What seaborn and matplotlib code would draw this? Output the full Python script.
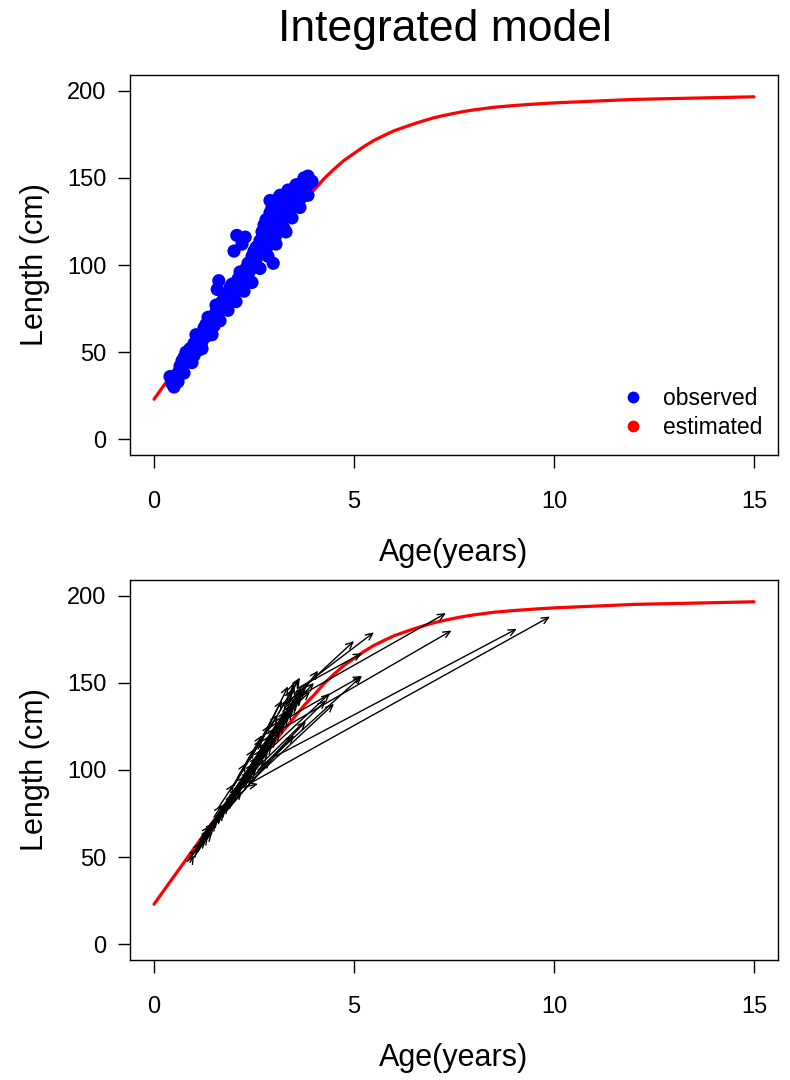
import matplotlib
matplotlib.use("Agg")
import matplotlib.pyplot as plt
import seaborn as sns
import pandas as pd
from matplotlib.lines import Line2D

# ---------------- data ----------------
curve_age = [0, 0.5, 1, 1.5, 2, 2.5, 3, 3.5, 3.75, 4, 4.25, 4.5, 4.75, 5,
             5.25, 5.5, 5.75, 6, 6.25, 6.5, 6.75, 7, 7.25, 7.5, 7.75, 8, 8.5,
             9, 9.5, 10, 11, 12, 13, 14, 15]
curve_len = [23, 39, 55, 71, 87, 102, 116, 130, 137, 143, 149.5, 155, 160, 164,
             168, 171.5, 174.3, 177, 179, 181, 182.8, 184.5, 185.8, 187, 188.1,
             189, 190.5, 191.5, 192.3, 193, 194, 195, 195.5, 196, 196.5]

obs_age = [0.45, 0.5, 0.4, 0.55, 0.6, 0.65, 0.7, 0.7, 0.75, 0.8, 0.85, 0.9, 0.9,
           0.95, 1.0, 1.0, 1.05, 1.1, 1.1, 1.15, 1.2, 1.25, 1.3, 1.3, 1.35, 1.4,
           1.4, 1.45, 1.5, 1.5, 1.55, 1.6, 1.6, 1.62, 1.7, 1.7, 1.75, 1.8, 1.8,
           1.85, 1.9, 1.9, 1.95, 2.0, 2.0, 2.07, 2.05, 2.1, 2.15, 2.2, 2.28, 2.25,
           2.3, 2.35, 2.4, 2.4, 2.45, 2.5, 2.5, 2.55, 2.6, 2.6, 2.65, 2.7, 2.7,
           2.75, 2.75, 2.8, 2.8, 2.85, 2.85, 2.9, 2.9, 2.95, 2.95, 2.98, 3.0, 3.0,
           3.05, 3.05, 3.1, 3.1, 3.15, 3.15, 3.2, 3.2, 3.25, 3.25, 3.3, 3.3, 3.35,
           3.35, 3.4, 3.4, 3.45, 3.5, 3.5, 3.55, 3.6, 3.6, 3.65, 3.7, 3.7, 3.75,
           3.8, 3.85, 3.9, 3.95,
           0.6, 0.75, 0.8, 0.95, 1.05, 1.2, 1.35, 1.45, 1.55, 1.65, 1.75, 1.85,
           1.95, 2.05, 2.15, 2.25, 2.35, 2.45, 2.55, 2.65, 2.75, 2.85, 2.95,
           3.05, 3.15, 3.25, 3.35, 3.45, 3.55, 3.65, 3.75, 3.85, 2.9, 3.0, 3.1,
           1.58, 2.2]
obs_len = [32, 30, 36, 35, 38, 42, 40, 45, 47, 44, 49, 46, 52,
           50, 55, 48, 53, 57, 51, 60, 56, 64, 59, 66, 63, 69,
           62, 67, 71, 65, 73, 69, 76, 91, 74, 79, 77, 81, 75,
           84, 80, 87, 83, 89, 108, 117, 85, 92, 88, 95, 116, 91,
           98, 94, 101, 97, 105, 100, 108, 103, 111, 106, 114, 109, 119,
           113, 123, 116, 126, 111, 121, 130, 118, 125, 133, 101, 121, 129,
           117, 126, 132, 123, 128, 136, 121, 131, 139, 127, 134, 119, 137,
           129, 141, 132, 138, 144, 135, 140, 146, 137, 142, 147, 139, 149,
           144, 151, 147, 148,
           33, 38, 50, 44, 60, 52, 70, 60, 77, 68, 83, 74,
           89, 79, 96, 85, 101, 90, 110, 98, 118, 105, 128,
           112, 140, 121, 143, 127, 146, 133, 150, 140, 137, 134, 138,
           86, 112]

rel_age = [0.85, 0.9, 0.95, 1.0, 1.05, 1.1, 1.15, 1.2, 1.25, 1.3, 1.35, 1.4,
           1.45, 1.5, 1.55, 1.6, 1.65, 1.7, 1.75, 1.8, 1.85, 1.9, 1.95, 2.0,
           2.05, 2.1, 2.15, 2.2, 2.25, 2.3, 2.35, 2.4, 2.45, 2.5, 2.55, 2.6,
           2.65, 2.7, 2.75, 2.8, 2.85, 2.9, 2.95, 3.0, 3.05, 3.1, 3.15, 3.2,
           3.25, 3.3, 1.8, 2.0, 2.3, 2.4, 2.7, 2.2, 2.45, 3.05, 3.0, 3.3,
           3.55, 3.4, 3.35, 2.6, 3.6, 3.2, 2.9,
           0.9, 1.0, 1.1, 1.2, 1.3, 1.4, 1.5, 1.6, 1.7, 1.8, 1.9, 2.0,
           2.1, 2.2, 2.3, 2.4, 2.5, 2.6, 2.7, 2.8, 2.9, 3.0, 3.1, 3.2,
           1.6, 1.9, 2.1, 2.3, 2.5, 2.7, 2.9, 3.1, 3.3, 2.0, 2.4, 1.5,
           1.2, 2.6]
rel_len = [48, 50, 52, 53, 56, 57, 60, 61, 63, 65, 67, 68,
           70, 71, 73, 74, 77, 78, 80, 81, 84, 85, 86, 88,
           89, 91, 93, 95, 96, 98, 99, 101, 103, 104, 106, 108,
           110, 111, 113, 115, 116, 118, 120, 121, 123, 125, 127, 129,
           131, 133, 76, 82, 92, 93, 104, 90, 93, 108, 121, 138,
           145, 140, 142, 100, 147, 128, 112,
           47, 50, 54, 58, 61, 64, 68, 70, 74, 78, 81, 85,
           88, 92, 95, 98, 100, 104, 107, 110, 114, 117, 120, 124,
           78, 88, 96, 104, 110, 118, 124, 132, 138, 91, 106, 73,
           62, 112]
rec_age = [1.1, 1.3, 1.2, 1.5, 1.4, 1.6, 1.5, 1.8, 1.7, 2.0, 1.9, 2.1,
           2.0, 2.3, 2.2, 2.4, 2.1, 2.5, 2.3, 2.6, 2.4, 2.7, 2.5, 2.8,
           2.6, 2.9, 2.7, 3.0, 2.9, 3.1, 2.8, 3.2, 3.0, 3.3, 3.1, 3.4,
           3.2, 3.5, 3.3, 3.6, 3.4, 3.7, 3.5, 3.6, 3.6, 3.8, 3.7, 4.1,
           3.9, 4.0, 2.9, 3.5, 3.8, 4.5, 4.3, 2.6, 9.9, 9.07, 7.44, 7.3,
           5.5, 5.0, 3.65, 5.2, 5.2, 5.2, 4.4,
           1.0, 1.35, 1.45, 1.55, 1.75, 1.85, 1.95, 2.15, 2.2, 2.35, 2.45, 2.55,
           2.75, 2.85, 2.95, 3.05, 3.15, 3.25, 3.35, 3.45, 3.55, 3.65, 3.75, 3.5,
           2.0, 2.3, 2.5, 2.7, 2.9, 3.1, 3.3, 3.45, 3.5, 2.7, 3.2, 1.7,
           1.4, 3.35]
rec_len = [55, 60, 58, 68, 66, 72, 70, 78, 74, 86, 82, 90,
           84, 95, 92, 100, 88, 104, 97, 108, 98, 112, 101, 116,
           104, 120, 108, 124, 115, 128, 112, 131, 119, 134, 124, 137,
           127, 140, 130, 144, 133, 147, 136, 152, 139, 148, 142, 157,
           145, 150, 106, 120, 128, 138, 140, 92, 188, 181, 180, 190,
           179, 174, 153, 154, 167, 154, 144,
           51, 62, 64, 70, 76, 80, 83, 90, 88, 94, 97, 100,
           106, 110, 114, 118, 122, 126, 130, 134, 138, 142, 146, 148,
           92, 104, 112, 120, 126, 132, 140, 146, 150, 118, 140, 80,
           68, 148]

title = "Integrated model"
xlabel = "Age(years)"
ylabel = "Length (cm)"
legend_labels = ["observed", "estimated"]
xticks = [0, 5, 10, 15]
yticks = [0, 50, 100, 150, 200]

# ---------------- style ----------------
sns.set_style("white")
plt.rcParams["font.family"] = ["Liberation Sans", "DejaVu Sans"]
plt.rcParams["text.color"] = "black"
plt.rcParams["axes.labelcolor"] = "black"

fig = plt.figure(figsize=(7.9, 10.8), dpi=100)
ax1 = fig.add_axes([130 / 790, 1 - 455 / 1080, 648 / 790, 380 / 1080])
ax2 = fig.add_axes([130 / 790, 1 - 960 / 1080, 648 / 790, 380 / 1080])

curve_df = pd.DataFrame({"age": curve_age, "len": curve_len})
obs_df = pd.DataFrame({"age": obs_age, "len": obs_len})

# top panel
sns.lineplot(data=curve_df, x="age", y="len", ax=ax1, color="red", lw=2.3,
             estimator=None, sort=False, zorder=2)
sns.scatterplot(data=obs_df, x="age", y="len", ax=ax1, color="blue", s=90,
                edgecolor="none", linewidth=0, zorder=3)

handles = [Line2D([], [], marker="o", ls="none", color="blue", markersize=7.5),
           Line2D([], [], marker="o", ls="none", color="red", markersize=7.5)]
ax1.legend(handles, legend_labels, loc="lower right", frameon=False,
           fontsize=16.5, handletextpad=0.3, labelspacing=0.25,
           borderaxespad=0.3)

# bottom panel
sns.lineplot(data=curve_df, x="age", y="len", ax=ax2, color="red", lw=2.3,
             estimator=None, sort=False, zorder=2)
for a0, l0, a1, l1 in zip(rel_age, rel_len, rec_age, rec_len):
    ax2.annotate("", xy=(a1, l1), xytext=(a0, l0), xycoords="data",
                 textcoords="data",
                 arrowprops=dict(arrowstyle="->,head_length=0.55,head_width=0.25",
                                 color="black", lw=1.0, mutation_scale=9,
                                 shrinkA=0, shrinkB=0),
                 zorder=3)

for ax in (ax1, ax2):
    ax.set_xlim(-0.6, 15.6)
    ax.set_ylim(-9, 209)
    ax.set_xticks(xticks)
    ax.set_yticks(yticks)
    ax.set_xticklabels([str(v) for v in xticks])
    ax.set_yticklabels([str(v) for v in yticks])
    ax.tick_params(axis="both", which="major", direction="out", length=9,
                   width=1, color="black", labelsize=17, labelcolor="black")
    ax.tick_params(axis="x", pad=17)
    ax.tick_params(axis="y", pad=8)
    ax.tick_params(bottom=True, left=True)
    for sp in ax.spines.values():
        sp.set_visible(True)
        sp.set_color("black")
        sp.set_linewidth(1.0)
    ax.set_xlabel(xlabel, fontsize=22, labelpad=18, color="black")
    ax.set_ylabel(ylabel, fontsize=22, labelpad=12, color="black")

fig.text(445 / 790, 1 - 30 / 1080, title, ha="center", va="center",
         fontsize=32, color="black")

fig.savefig("out.png", dpi=100, facecolor="white")
